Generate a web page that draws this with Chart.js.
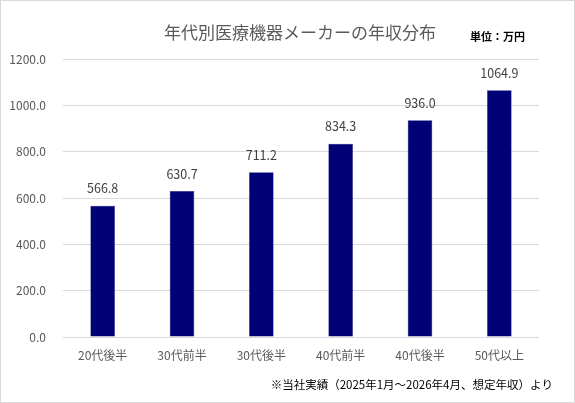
<!DOCTYPE html>
<html lang="ja">
<head>
    <meta charset="UTF-8">
    <title>年代別医療機器メーカーの年収分布</title>
    <script src="https://cdn.jsdelivr.net/npm/chart.js"></script>
    <style>
        * {
            margin: 0;
            padding: 0;
            box-sizing: border-box;
        }
        body {
            background-color: #ffffff;
        }
        .chart-box {
            position: relative;
            width: 575px;
            height: 403px;
            border: 1px solid #d9d9d9;
        }
    </style>
</head>
<body>

    <div class="chart-box">
        <canvas id="salaryChart"></canvas>
    </div>

    <script>
        // データ
        const categories = ['20代後半', '30代前半', '30代後半', '40代前半', '40代後半', '50代以上'];
        const salaries = [566.8, 630.7, 711.2, 834.3, 936.0, 1064.9];
        const yTicks = [0, 200, 400, 600, 800, 1000, 1200];

        const titleText = '年代別医療機器メーカーの年収分布';
        const unitText = '単位：万円';
        const noteText = '※当社実績（2025年1月～2026年4月、想定年収）より';

        const fontFamily = '"Noto Sans CJK JP", "Noto Sans", sans-serif';

        // タイトル・単位・注記・値ラベル
        const extraText = {
            id: 'extraText',
            afterDatasetsDraw(chart) {
                const ctx = chart.ctx;
                ctx.save();
                ctx.textBaseline = 'middle';

                ctx.fillStyle = '#595959';
                ctx.font = '17px ' + fontFamily;
                ctx.textAlign = 'center';
                ctx.fillText(titleText, 299, 32);

                ctx.fillStyle = '#000000';
                ctx.font = 'bold 11px ' + fontFamily;
                ctx.textAlign = 'left';
                ctx.fillText(unitText, 469, 36);

                ctx.font = '11.5px ' + fontFamily;
                ctx.textAlign = 'right';
                ctx.fillText(noteText, 552, 384);

                // 値ラベル
                ctx.fillStyle = '#404040';
                ctx.font = '12.5px ' + fontFamily;
                ctx.textAlign = 'center';
                const meta = chart.getDatasetMeta(0);
                meta.data.forEach((bar, i) => {
                    ctx.fillText(salaries[i].toFixed(1), bar.x, bar.y - 17);
                });
                ctx.restore();
            }
        };

        const ctx = document.getElementById('salaryChart').getContext('2d');
        const salaryChart = new Chart(ctx, {
            type: 'bar',
            data: {
                labels: categories,
                datasets: [{
                    label: '年収',
                    data: salaries,
                    backgroundColor: '#000077',
                    borderColor: '#1a1a8c',
                    borderWidth: 0.5,
                    categoryPercentage: 1,
                    barPercentage: 0.31
                }]
            },
            options: {
                responsive: true,
                maintainAspectRatio: false,
                animation: false,
                devicePixelRatio: 1,
                layout: {
                    padding: { top: 58, right: 35, bottom: 0, left: 0 }
                },
                plugins: {
                    legend: { display: false },
                    tooltip: { enabled: false }
                },
                scales: {
                    x: {
                        grid: { display: false, drawTicks: false },
                        border: { display: false },
                        ticks: {
                            color: '#595959',
                            font: { family: fontFamily, size: 12 },
                            padding: 11
                        },
                        afterFit(scale) {
                            scale.height = 65;
                        }
                    },
                    y: {
                        min: 0,
                        max: 1200,
                        afterBuildTicks(scale) {
                            scale.ticks = yTicks.map(v => ({ value: v }));
                        },
                        grid: { color: '#d9d9d9', drawTicks: false },
                        border: { display: false },
                        ticks: {
                            color: '#595959',
                            font: { family: fontFamily, size: 12 },
                            padding: 17,
                            callback: v => Number(v).toFixed(1)
                        },
                        afterFit(scale) {
                            scale.width = 62;
                        }
                    }
                }
            },
            plugins: [extraText]
        });
    </script>
</body>
</html>
